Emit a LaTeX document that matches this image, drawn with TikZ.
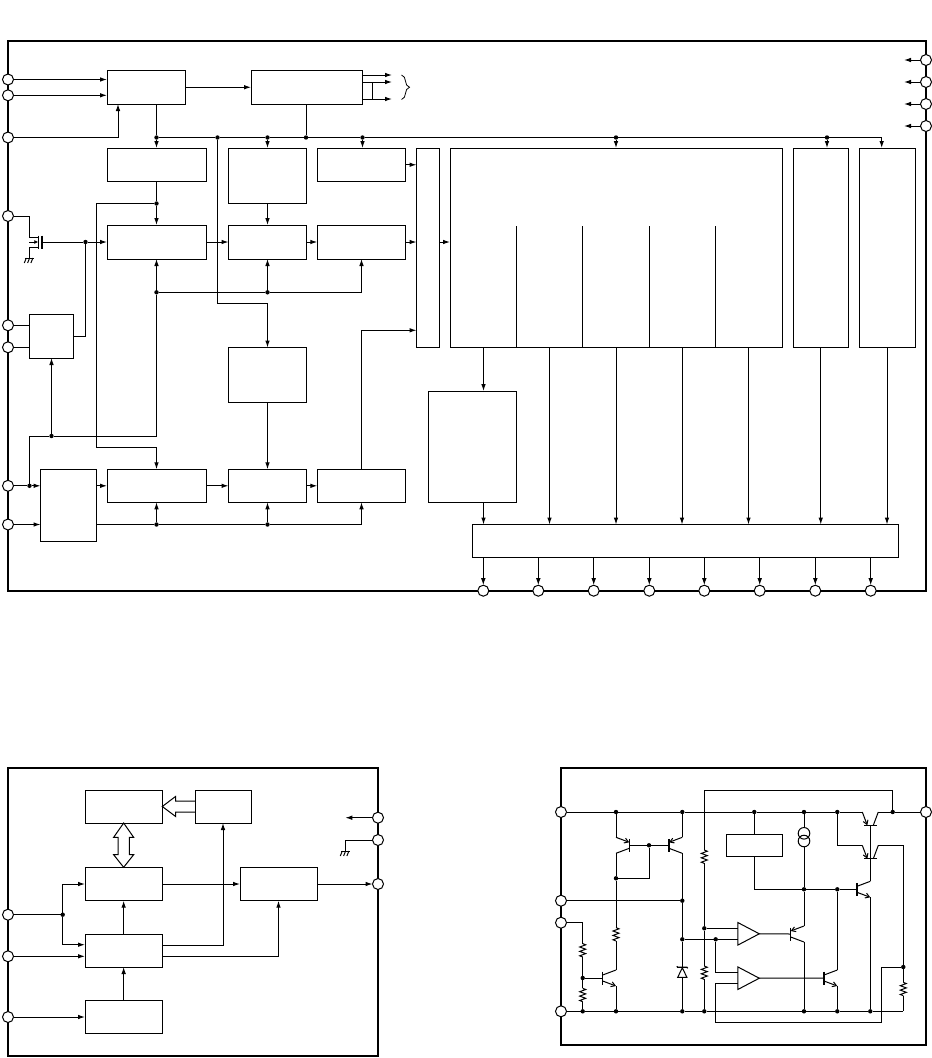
\documentclass[tikz,border=0pt]{standalone}
\usetikzlibrary{arrows.meta,decorations.pathreplacing}
\tikzset{
	block/.style={draw, inner sep=0pt, outer sep=0pt},
	padc/.style={circle, draw, fill=white, minimum size=11pt, inner sep=0pt, outer sep=0pt},
	jn/.style={circle, fill=black, minimum size=4.4pt, inner sep=0pt, outer sep=0pt},
	ar/.style={-{Latex[length=7pt,width=4.6pt]}},
	frm/.style={line width=2.2pt},
	hollow/.style={line width=1pt, line join=miter},
	resv/.pic={
		\draw (0,-6.7) -- (3,-5.5) -- (-3,-3.3) -- (3,-1.1) -- (-3,1.1) -- (3,3.3) -- (-3,5.5) -- (0,6.7);
		\coordinate (-top) at (0,-6.7);
		\coordinate (-bot) at (0,6.7);
	},
	npn/.pic={
		\draw[line width=1.2pt] (0,-6.5) -- (0,6.5);
		\draw (0,-3) -- (13.3,-8);
		\draw[-{Straight Barb[length=4pt,width=5pt]}] (0,3) -- (13.3,8);
		\coordinate (-b) at (0,0);
		\coordinate (-c) at (13.3,-8);
		\coordinate (-e) at (13.3,8);
	},
	pnp/.pic={
		\draw[line width=1.2pt] (0,-6.5) -- (0,6.5);
		\draw (0,3) -- (13.3,8);
		\draw[-{Straight Barb[length=4pt,width=5pt]}] (13.3,-8) -- (0,-3);
		\coordinate (-b) at (0,0);
		\coordinate (-e) at (13.3,-8);
		\coordinate (-c) at (13.3,8);
	},
	amp/.pic={
		\draw (0,-11.3) -- (21.5,0) -- (0,11.3) -- cycle;
		\coordinate (-a) at (0,-5.5);
		\coordinate (-b) at (0,5.5);
		\coordinate (-o) at (21.5,0);
	},
	zen/.pic={
		\draw (-4.6,5) -- (4.6,5) -- (0,-4.5) -- cycle;
		\draw[line width=1.3pt] (-5.4,-6) -- (-4.6,-5) -- (4.6,-5) -- (5.4,-4);
		\coordinate (-top) at (0,-5);
		\coordinate (-bot) at (0,5);
	},
	gnd/.pic={
		\draw (-4.5,0) -- (4.5,0);
		\draw (-3,0) -- (-5,5);
		\draw (0.3,0) -- (-1.7,5);
		\draw (3.6,0) -- (1.6,5);
	},
}
\newcommand{\blk}[5]{\node[block, minimum width={(#4-#2)*1pt}, minimum height={(#5-#3)*1pt}] (#1) at ({(#2+#4)/2},{(#3+#5)/2}) {};}
\begin{document}
\begin{tikzpicture}[x=1pt, y=-1pt, line width=1pt]
	\useasboundingbox (0,0) rectangle (932,1058);

	% upper chart
	\draw[frm] (8,41) rectangle (926,590.7);
	\blk{inp}{107}{70.5}{185}{104}
	\blk{dec}{251}{70.5}{362}{104}
	\blk{clk}{107}{148}{206}{181.5}
	\blk{rom}{228.5}{148}{306.5}{203.5}
	\blk{ref}{317.3}{148}{405.7}{181.5}
	\blk{mixa}{107}{225}{206}{259}
	\blk{mixb}{228.5}{225}{306.5}{259}
	\blk{mixc}{317.3}{225}{405.7}{259}
	\blk{sw}{416.5}{148}{439.5}{347.5}
	\blk{logic}{450}{148}{782}{347.5}
	\blk{drvf}{793}{148}{848.5}{347.5}
	\blk{drvr}{859}{148}{915}{347.5}
	\blk{psu}{29.5}{314}{73.5}{358}
	\blk{delay}{228.5}{347.5}{306.5}{402.5}
	\blk{sel}{40.5}{469.3}{96.5}{541.3}
	\blk{atta}{107}{469.3}{206}{502.3}
	\blk{attb}{228.5}{469.3}{306.5}{502.3}
	\blk{attc}{317.3}{469.3}{405.7}{502.3}
	\blk{mem}{428.5}{391}{516.5}{502.3}
	\blk{outbus}{472.3}{524.5}{898.3}{557.5}

	\foreach \n/\x/\y in {pa1/8/79.5, pa2/8/95.3, pa3/8/137.5, pa4/8/216, pa5/8/325.3, pa6/8/347.3, pa7/8/485.8, pa8/8/524.5, pr1/926/60, pr2/926/82, pr3/926/104, pr4/926/126}
		\node[padc] (\n) at (\x,\y) {};
	\foreach \x [count=\i] in {483.3,538.3,593.7,649.3,704.3,759.7,815.3,870.7} {
		\node[padc] (pb\i) at (\x,590.7) {};
		\draw[ar] (outbus.south -| pb\i) -- (pb\i);
	}
	\foreach \i/\y in {1/60, 2/82, 3/104, 4/126} {
		\coordinate (po\i) at (904,\y);
		\draw[ar] (pr\i) -- (po\i);
	}
	\foreach \n/\x/\y in {j157a/156.5/137.5, j217/217.5/137.5, j267/267.5/137.5, j306/306/137.5, j362/362.5/137.5, j616/616/137.5, j827/827/137.5, j157b/156.5/203.5, j157c/156.5/292.3, j267b/267.5/292.3, j85/85.5/242, j51/51.5/436, j29/29.5/485.8, j157d/156.5/524.5, j267c/267.5/524.5}
		\node[jn] (\n) at (\x,\y) {};

	% inputs and first row
	\draw[ar] (pa1) -- (inp.west |- pa1);
	\draw[ar] (pa2) -- (inp.west |- pa2);
	\coordinate (inpb) at (118,104);
	\draw[ar] (pa3) -| (inpb);
	\draw[ar] (inp) -- (dec);
	\foreach \y in {75,82,99} {
		\coordinate (do\y) at (392,\y);
		\draw[ar] (dec.east |- do\y) -- (do\y);
	}
	\coordinate (tie) at (372.5,82);
	\draw (tie) -- (tie |- do99);
	\coordinate (bra) at (401.5,75);
	\coordinate (brb) at (401.5,99.5);
	\draw[decorate, decoration={brace, amplitude=8pt}, line width=0.8pt] (bra) -- (brb);

	% bus
	\draw (inp.south -| j157a) -- (j157a);
	\draw (dec.south -| j306) -- (j306);
	\coordinate (drvrin) at (881.7,148);
	\draw (j157a) -- (j217) -- (j267) -- (j306) -- (j362) -- (j616) -- (j827);
	\draw[ar] (j827) -| (drvrin);
	\draw[ar] (j157a) -- (clk.north);
	\draw[ar] (j267) -- (rom.north);
	\draw[ar] (j362) -- (ref.north -| j362);
	\draw[ar] (j616) -- (logic.north);
	\draw[ar] (j827) -- (drvf.north -| j827);
	\coordinate (dl1) at (267.5,303);
	\draw (j217) |- (dl1);
	\draw[ar] (dl1) -- (delay.north);

	% middle row
	\draw (clk.south) -- (j157b);
	\draw[ar] (j157b) -- (mixa.north);
	\coordinate (fbk1) at (96.5,447);
	\draw[ar] (j157b) -| (fbk1) -| (atta.north);
	\draw[ar] (rom.south) -- (mixb.north);
	\draw[ar] (mixa.east) -- (mixb.west);
	\draw[ar] (mixb.east) -- (mixc.west);
	\draw[ar] (mixc.east) -- (sw.west |- mixc.east);
	\draw[ar] (sw.east |- mixc.east) -- (logic.west |- mixc.east);
	\draw[ar] (ref.east) -- (sw.west |- ref.east);
	\draw[ar] (j157c) -- (mixa.south);
	\draw[ar] (j267b) -- (mixb.south);
	\draw (j157c) -- (j267b);
	\draw[ar] (j267b) -| (mixc.south);
	\draw (j157c) |- (j51);
	\draw (j51) -| (j29);
	\draw[ar] (j51) -- (psu.south -| j51);
	\draw (pa5) -- (psu.west |- pa5);
	\draw (pa6) -- (psu.west |- pa6);
	\draw (psu.east) -| (j85);
	\draw[ar] (j85) -- (mixa.west);

	% coupling device
	\coordinate (mosd) at (29.3,237);
	\coordinate (moss) at (29.3,247.7);
	\coordinate (mosg) at (42,242);
	\coordinate (mosc) at (38.3,242);
	\draw (pa4) -| (mosd) -- (mosd -| mosc);
	\draw (moss -| mosc) -- (moss);
	\draw[line width=1.3pt] (38.3,235.5) -- (38.3,249);
	\draw[line width=1.1pt] (42,235.5) -- (42,249);
	\draw[-{Latex[length=4pt,width=4pt]}] (29.3,242) -- (mosc);
	\draw (mosg) -- (j85);
	\pic (gnda) at (29.3,258) {gnd};
	\draw (moss) -- (29.3,258);

	% lower row
	\draw (pa7) -- (j29);
	\draw[ar] (j29) -- (sel.west |- j29);
	\draw[ar] (pa8) -- (sel.west |- pa8);
	\draw[ar] (sel.east |- atta.west) -- (atta.west);
	\draw[ar] (atta.east) -- (attb.west);
	\draw[ar] (attb.east) -- (attc.west);
	\draw[ar] (delay.south) -- (attb.north);
	\draw (sel.east |- j157d) -- (j157d) -- (j267c);
	\draw[ar] (j267c) -| (attc.south);
	\draw[ar] (j157d) -- (atta.south);
	\draw[ar] (j267c) -- (attb.south);
	\coordinate (swin) at (416.5,330.3);
	\draw[ar] (attc.north) |- (swin);

	% right part
	\foreach \x in {516,582,649,715} {
		\coordinate (dv\x) at (\x,226);
		\draw (dv\x) -- (dv\x |- logic.south);
	}
	\coordinate (m1) at (483.5,391);
	\draw[ar] (logic.south -| m1) -- (m1);
	\draw[ar] (mem.south -| m1) -- (outbus.north -| m1);
	\foreach \x [count=\i] in {549.5,616,682,748.5} {
		\coordinate (lo\i) at (\x,524.5);
		\draw[ar] (logic.south -| lo\i) -- (lo\i);
	}
	\draw[ar] (drvf.south) -- (outbus.north -| drvf.south);
	\draw[ar] (drvr.south) -- (outbus.north -| drvr.south);

	% lower left chart
	\draw[frm] (8,768) rectangle (378,1055.7);
	\blk{mema}{85}{790}{162.3}{823}
	\blk{fbk}{195.5}{790}{251}{823}
	\blk{ctla}{85}{867.3}{162.3}{900.7}
	\blk{ctlb}{85}{934}{162.3}{967}
	\blk{tim}{85}{1000.3}{162.3}{1033.3}
	\blk{outa}{240}{867.3}{317.3}{900.7}
	\foreach \n/\x/\y in {ql1/8/914.7, ql2/8/956.3, ql3/8/1017, qr1/378/817.7, qr2/378/840, qr3/378/884}
		\node[padc] (\n) at (\x,\y) {};
	\node[jn] (jq) at (62.7,914.7) {};
	\coordinate (qa) at (85,884);
	\coordinate (qb) at (85,944.7);
	\draw (ql1) -- (jq);
	\draw[ar] (jq) |- (qa);
	\draw[ar] (jq) |- (qb);
	\draw[ar] (ql2) -- (ctlb.west |- ql2);
	\draw[ar] (ql3) -- (tim.west |- ql3);
	\draw[ar] (tim.north) -- (ctlb.south);
	\draw[ar] (ctlb.north) -- (ctla.south);
	\draw[ar] (ctla.east |- qa) -- (outa.west |- qa);
	\draw[ar] (outa.east |- qa) -- (qr3);
	\coordinate (qc) at (223,945);
	\coordinate (qd) at (278.5,956.3);
	\draw[ar] (ctlb.east |- qc) -| (fbk.south -| qc);
	\draw[ar] (ctlb.east |- qd) -| (outa.south -| qd);
	\coordinate (qo) at (345.3,817.7);
	\draw[ar] (qr1) -- (qo);
	\coordinate (gndb) at (345.3,851);
	\draw (qr2) -| (gndb);
	\pic (gndq) at (gndb) {gnd};
	\draw[hollow] (fbk.west) ++(0,-5.5) -- ++(-20,0) -- ++(0,-4.5) -- (mema.east) -- ++(13.3,10) -- ++(0,-4.5) -- ++(20,0);
	\draw[hollow] (mema.south) -- ++(10,14.3) -- ++(-4.4,0) -- ++(0,17.4) -- ++(4.4,0) -- (ctla.north) -- ++(-10,-12.6) -- ++(4.4,0) -- ++(0,-17.4) -- ++(-4.4,0) -- cycle;

	% lower right circuit
	\draw[frm] (561,768) rectangle (926,1045);
	\foreach \n/\x/\y in {pc1/561/812, pc2/561/900.7, pc3/561/922.7, pc4/561/1011.3, pc5/926/812}
		\node[padc] (\n) at (\x,\y) {};
	\foreach \n/\x/\y in {c616/616/812, c682/682.3/812, c754/754.3/812, c804/804/812, c837/837.3/812, c893/892.7/812, c649/649/845.3, c616b/616/878.3, c682b/682.3/900.7, c682c/682.3/939.3, c704c/704.3/928.3, c716/715.7/939.3, c804b/804/889.3, c837b/837.3/889.3, c583/582.7/978, c903/903.3/967, c583b/582.7/1011.3, c616c/616/1011.3, c682d/682.3/1011.3, c704d/704.3/1011.3, c804c/804/1011.3, c837c/837.3/1011.3, c870/870.3/1011.3}
		\node[jn] (\n) at (\x,\y) {};
	\blk{vref}{726.3}{834.3}{782.3}{856.3}
	\pic[xscale=-1] (ql) at (629.3,845.3) {pnp};
	\pic (qm) at (669,845.3) {pnp};
	\pic (qn) at (602.7,978) {npn};
	\pic (qo4) at (790.7,934) {pnp};
	\pic (qp) at (824,978) {npn};
	\pic (qs) at (857,889.3) {npn};
	\pic[rotate=90] (qt) at (870.3,825.3) {pnp};
	\pic[rotate=90] (qu) at (870.3,858.7) {pnp};
	\pic (ra) at (582.7,950.3) {resv};
	\pic (rb) at (582.7,995) {resv};
	\pic (rc) at (616,934.3) {resv};
	\pic (rd) at (704.3,856.7) {resv};
	\pic (re) at (704.3,972.7) {resv};
	\pic (rf) at (903.3,989) {resv};
	\pic (dz) at (682.3,972.3) {zen};
	\pic (ampa) at (737.8,933.8) {amp};
	\pic (ampb) at (737.8,978.2) {amp};
	\node[circle, draw, minimum size=11.6pt, inner sep=0pt] (csa) at (804,833.3) {};
	\node[circle, draw, minimum size=11.6pt, inner sep=0pt] (csb) at (804,841) {};

	\draw (pc1) -- (c616) -- (c682) -- (c754) -- (c804) -- (c837) -- (qt-e);
	\draw (qt-c) -- (c893) -- (pc5);
	\draw (c616) -- (ql-e);
	\draw (c682) -- (qm-e);
	\draw (ql-b) -- (c649) -- (qm-b);
	\draw (ql-c) -- (c616b);
	\draw (c616b) -| (c649);
	\draw (c616b) -- (rc-top);
	\draw (rc-bot) -- (qn-c);
	\draw (qn-e) -- (c616c);
	\draw (pc3) -| (ra-top);
	\draw (ra-bot) -- (c583);
	\draw (c583) -- (rb-top);
	\draw (rb-bot) -- (c583b);
	\draw (c583) -- (qn-b);
	\draw (pc2) -- (c682b);
	\draw (qm-c) -- (c682b) -- (c682c) -- (dz-top);
	\draw (dz-bot) -- (c682d);
	\coordinate (topw) at (704.3,790.3);
	\draw (c893) |- (topw) -- (rd-top);
	\draw (rd-bot) -- (c704c) -- (re-top);
	\draw (re-bot) -- (c704d);
	\draw (c704c) -- (ampa-a);
	\draw (c682c) -- (c716) -- (ampa-b);
	\draw (c716) |- (ampb-a);
	\coordinate (kb) at (715.7,983.7);
	\coordinate (kc) at (881.3,1022.3);
	\draw (ampb-b) -- (kb) |- (kc) |- (c903);
	\draw (c754) -- (vref.north);
	\draw (vref.south) |- (c804b);
	\draw (c804b) -- (c837b) -- (qs-b);
	\draw (c804) -- (csa);
	\draw (csb) -- (c804b) -- (qo4-e);
	\draw (qo4-c) -- (c804c);
	\draw (ampa-o) -- (qo4-b);
	\draw (ampb-o) -- (qp-b);
	\draw (c837b) -- (qp-c);
	\draw (qp-e) -- (c837c);
	\draw (c837) |- (qu-e);
	\draw (qt-b) -- (qu-b) -- (qs-c);
	\draw (qs-e) -- (c870);
	\draw (qu-c) -| (c903);
	\draw (c903) -- (rf-top);
	\coordinate (kd) at (903.3,1011.3);
	\draw (rf-bot) -- (kd);
	\draw (pc4) -- (c583b) -- (c616c) -- (c682d) -- (c704d) -- (c804c) -- (c837c) -- (c870) -- (kd);
\end{tikzpicture}
\end{document}
